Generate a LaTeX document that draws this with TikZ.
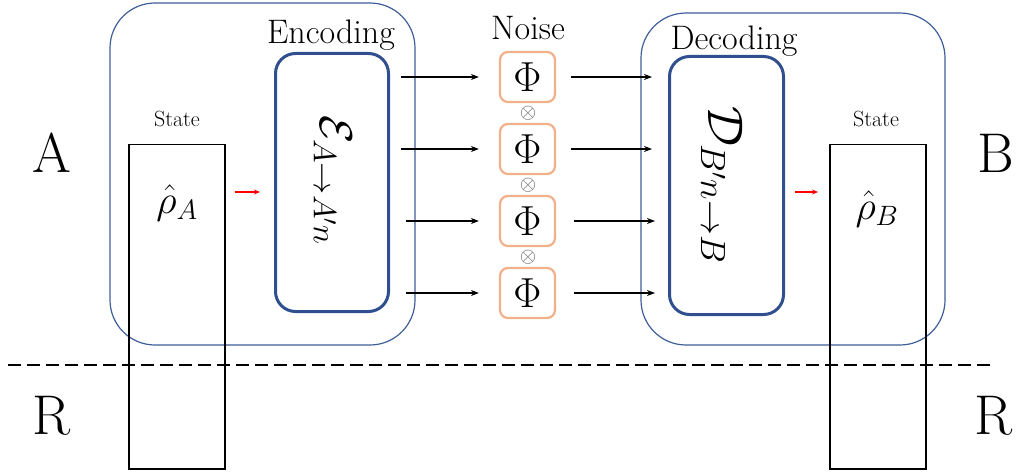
\RequirePackage{fix-cm}
\documentclass[tikz,border=0pt]{standalone}
\usetikzlibrary{arrows.meta}
\definecolor{outerblue}{HTML}{3F5E9A}
\definecolor{innerblue}{HTML}{2F4F8F}
\definecolor{phiorange}{HTML}{F2B08A}
\tikzset{
  outerbox/.style={draw=outerblue, line width=1.2pt, rounded corners=45pt},
  codebox/.style={draw=innerblue, line width=3pt, rounded corners=20pt},
  phibox/.style={draw=phiorange, line width=2.2pt, rounded corners=8pt, minimum width=55pt, minimum height=50pt, inner sep=0pt},
  statebox/.style={draw=black, line width=1.5pt, minimum width=96pt, minimum height=324pt, inner sep=0pt, anchor=north west},
  arr/.style={-{Stealth[length=8pt,width=6pt]}, line width=2pt},
  redarr/.style={-{Stealth[length=6pt,width=5pt]}, line width=2pt, red},
  big/.style={font=\fontsize{56}{60}\selectfont, inner sep=0pt, anchor=base},
  lab/.style={font=\fontsize{34}{38}\selectfont, inner sep=0pt, anchor=base},
  statelab/.style={font=\fontsize{22}{24}\selectfont, inner sep=0pt, anchor=base},
  rholab/.style={font=\fontsize{40}{44}\selectfont, inner sep=0pt, anchor=base},
  tens/.style={font=\fontsize{21}{22}\selectfont, text=black!65, inner sep=0pt},
}
\begin{document}
\begin{tikzpicture}[x=1pt,y=-1pt]
\useasboundingbox (0,0) rectangle (1019,473);
% outer rounded boxes
\draw[outerbox] (110,3) rectangle (415,345);
\draw[outerbox] (641,13) rectangle (945,345);
% state boxes
\node[statebox] (sA) at (128,144) {};
\node[statebox] (sB) at (829,144) {};
\node[statelab] (stA) at (177,127) {State};
\node[statelab] (stB) at (876,127) {State};
\node[rholab] (rhoA) at (177,213) {$\hat{\rho}_A$};
\node[rholab] (rhoB) at (877,219) {$\hat{\rho}_B$};
% encoder / decoder
\node[codebox, minimum width=113pt, minimum height=258pt, anchor=north west] (enc) at (274,52) {};
\node[codebox, minimum width=114pt, minimum height=258pt, anchor=north west] (dec) at (668,55) {};
\node[rotate=-90, font=\fontsize{46}{48}\selectfont, inner sep=0pt] (encT) at (333,180) {$\mathcal{E}_{A\to A'n}$};
\node[rotate=-90, font=\fontsize{50}{52}\selectfont, inner sep=0pt] (decT) at (722,185) {$\mathcal{D}_{B'n\to B}$};
\node[lab] (encL) at (331,44) {Encoding};
\node[lab] (noiseL) at (528,40) {Noise};
\node[lab] (decL) at (734,50) {Decoding};
% phi boxes
\node[phibox] (p1) at (527.5,77) {\fontsize{42}{44}\selectfont$\Phi$};
\node[phibox] (p2) at (527.5,149) {\fontsize{42}{44}\selectfont$\Phi$};
\node[phibox] (p3) at (527.5,221) {\fontsize{42}{44}\selectfont$\Phi$};
\node[phibox] (p4) at (527.5,293) {\fontsize{42}{44}\selectfont$\Phi$};
\node[tens] (t1) at (528,113) {$\otimes$};
\node[tens] (t2) at (528,185) {$\otimes$};
\node[tens] (t3) at (528,257) {$\otimes$};
% arrows enc -> phi
\draw[arr, shorten <=11pt, shorten >=20pt] (enc.east |- p1.west) -- (p1.west);
\draw[arr, shorten <=11pt, shorten >=20pt] (enc.east |- p2.west) -- (p2.west);
\draw[arr, shorten <=16pt, shorten >=20pt] (enc.east |- p3.west) -- (p3.west);
\draw[arr, shorten <=16pt, shorten >=20pt] (enc.east |- p4.west) -- (p4.west);
% arrows phi -> dec
\draw[arr, shorten <=15pt, shorten >=16pt] (p1.east) -- (dec.west |- p1.east);
\draw[arr, shorten <=15pt, shorten >=16pt] (p2.east) -- (dec.west |- p2.east);
\draw[arr, shorten <=18pt, shorten >=13pt] (p3.east) -- (dec.west |- p3.east);
\draw[arr, shorten <=18pt, shorten >=13pt] (p4.east) -- (dec.west |- p4.east);
% red arrows
\coordinate (ya) at (0,192);
\draw[redarr, shorten <=9pt, shorten >=14pt] (sA.east |- ya) -- (enc.west |- ya);
\draw[redarr, shorten <=10pt, shorten >=11pt] (dec.east |- ya) -- (sB.west |- ya);
% side labels
\node[big] (lA) at (52,173) {A};
\node[big] (lB) at (996,173) {B};
\node[big] (lR1) at (52,434) {R};
\node[big] (lR2) at (994,434) {R};
% dashed separator
\coordinate (d1) at (8,365);
\coordinate (d2) at (990,365);
\draw[line width=2pt, dash pattern=on 13pt off 6pt] (d1) -- (d2);
\end{tikzpicture}
\end{document}
